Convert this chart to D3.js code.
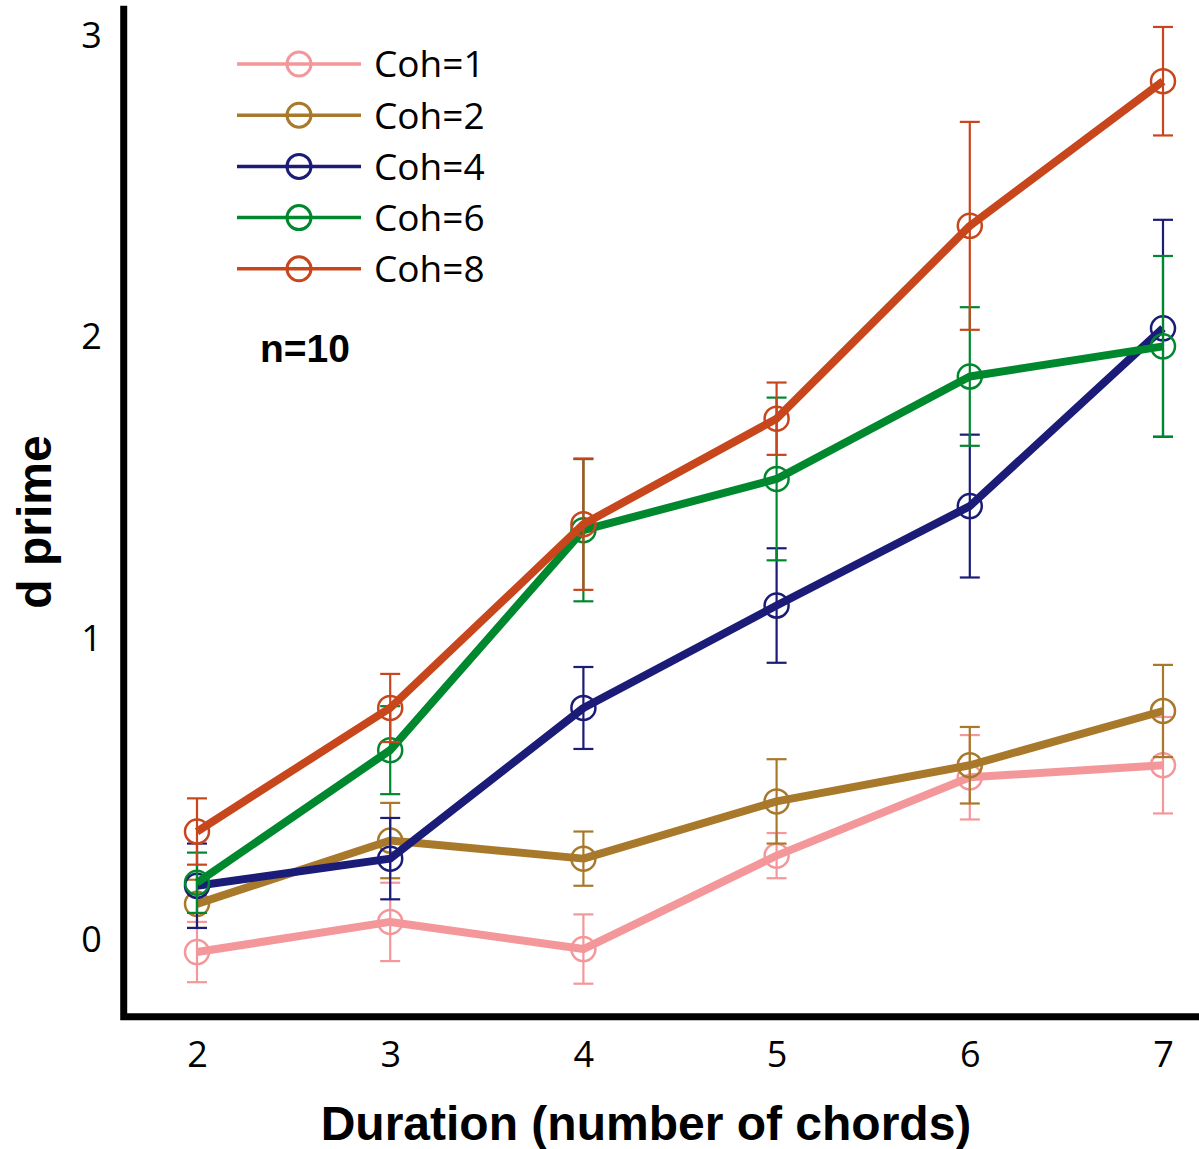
<!DOCTYPE html>
<html>
  <head>
    <meta charset="utf-8">
    <title>d prime by duration</title>
    <script src="https://d3js.org/d3.v7.min.js"></script>
    <style>
      body { margin: 0; background: #fff; }
      .tick text { font-family: "Open Sans", sans-serif; font-size: 36px; fill: #000; }
      .legend-label { font-family: "Open Sans", sans-serif; font-size: 37px; }
      .axis-title { font-family: "Liberation Sans", Arial, sans-serif; font-weight: bold; font-size: 48px; }
    </style>
  </head>
  <body>
    <div id="chart"></div>
    <script>
      // durations on the x axis
      const durations = [2, 3, 4, 5, 6, 7];
      const cohLabels = ['Coh=1', 'Coh=2', 'Coh=4', 'Coh=6', 'Coh=8'];
      const cohColors = ['#f4979a', '#a9792b', '#1b1b78', '#00882f', '#c8461b'];

      // mean d prime per coherence level
      const coh1 = [-0.04, 0.06, -0.03, 0.28, 0.54, 0.58];
      const coh2 = [0.12, 0.33, 0.27, 0.46, 0.58, 0.76];
      const coh4 = [0.18, 0.27, 0.77, 1.11, 1.44, 2.03];
      const coh6 = [0.19, 0.63, 1.36, 1.53, 1.87, 1.97];
      const coh8 = [0.36, 0.77, 1.38, 1.73, 2.37, 2.85];

      // error bar half widths
      const err1 = [0.10, 0.13, 0.115, 0.075, 0.14, 0.16];
      const err2 = [0.08, 0.125, 0.09, 0.14, 0.127, 0.153];
      const err4 = [0.14, 0.135, 0.136, 0.19, 0.237, 0.36];
      const err6 = [0.10, 0.146, 0.236, 0.27, 0.23, 0.30];
      const err8 = [0.11, 0.113, 0.218, 0.12, 0.345, 0.18];

      const yTicks = [0, 1, 2, 3];

      const means = [coh1, coh2, coh4, coh6, coh8];
      const errs = [err1, err2, err4, err6, err8];

      const width = 1199, height = 1149;
      const svg = d3.select('#chart').append('svg')
        .attr('width', width)
        .attr('height', height);

      const xScale = d3.scaleLinear().domain([2, 7]).range([197, 1163]);
      const yScale = d3.scaleLinear().domain([0, 3]).range([940, 36]);

      const axisX = xScale(1.6) + 4;
      const axisY = yScale(-0.255);

      // y axis (labels only, the frame is drawn below)
      const yAxis = d3.axisLeft(yScale)
        .tickValues(yTicks)
        .tickSize(0)
        .tickPadding(22)
        .tickFormat(d3.format('d'));
      const yAxisG = svg.append('g')
        .attr('transform', `translate(${axisX},0)`)
        .call(yAxis);
      yAxisG.select('.domain').remove();

      const xAxis = d3.axisBottom(xScale)
        .tickValues(durations)
        .tickSize(0)
        .tickPadding(25)
        .tickFormat(d3.format('d'));
      const xAxisG = svg.append('g')
        .attr('transform', `translate(0,${axisY})`)
        .call(xAxis);
      xAxisG.select('.domain').remove();

      // L-shaped frame
      svg.append('path')
        .attr('d', `M${axisX},${yScale(3.1)}V${axisY}H${width}`)
        .attr('fill', 'none')
        .attr('stroke', '#000')
        .attr('stroke-width', 7);

      svg.append('text')
        .attr('class', 'axis-title')
        .attr('x', 646)
        .attr('y', 1140)
        .attr('text-anchor', 'middle')
        .text('Duration (number of chords)');

      svg.append('text')
        .attr('class', 'axis-title')
        .attr('font-size', 49)
        .attr('transform', `translate(51,522) rotate(-90)`)
        .attr('text-anchor', 'middle')
        .text('d prime');

      const line = d3.line()
        .x((d, i) => xScale(durations[i]))
        .y(d => yScale(d));

      means.forEach((series, s) => {
        const color = cohColors[s];
        const g = svg.append('g');

        g.append('path')
          .datum(series)
          .attr('d', line)
          .attr('fill', 'none')
          .attr('stroke', color)
          .attr('stroke-width', 8)
          .attr('stroke-linejoin', 'round');

        const bars = g.selectAll('.bar')
          .data(series.map((m, i) => ({ x: durations[i], m: m, e: errs[s][i] })))
          .enter().append('g')
          .attr('stroke', color)
          .attr('stroke-width', 2.2);

        bars.append('line')
          .attr('x1', d => xScale(d.x)).attr('x2', d => xScale(d.x))
          .attr('y1', d => yScale(d.m - d.e)).attr('y2', d => yScale(d.m + d.e));
        bars.append('line')
          .attr('x1', d => xScale(d.x) - 10).attr('x2', d => xScale(d.x) + 10)
          .attr('y1', d => yScale(d.m + d.e)).attr('y2', d => yScale(d.m + d.e));
        bars.append('line')
          .attr('x1', d => xScale(d.x) - 10).attr('x2', d => xScale(d.x) + 10)
          .attr('y1', d => yScale(d.m - d.e)).attr('y2', d => yScale(d.m - d.e));

        g.selectAll('circle')
          .data(series)
          .enter().append('circle')
          .attr('cx', (d, i) => xScale(durations[i]))
          .attr('cy', d => yScale(d))
          .attr('r', 12)
          .attr('fill', 'none')
          .attr('stroke', color)
          .attr('stroke-width', 2.5);
      });

      // legend
      const legend = svg.append('g').attr('transform', 'translate(237,64)');
      const items = legend.selectAll('.item')
        .data(cohLabels)
        .enter().append('g')
        .attr('transform', (d, i) => `translate(0,${i * 51.2})`);
      items.append('line')
        .attr('x1', 0).attr('x2', 124)
        .attr('stroke', (d, i) => cohColors[i])
        .attr('stroke-width', 3.5);
      items.append('circle')
        .attr('cx', 62).attr('r', 12)
        .attr('fill', 'none')
        .attr('stroke', (d, i) => cohColors[i])
        .attr('stroke-width', 3);
      items.append('text')
        .attr('class', 'legend-label')
        .attr('x', 137)
        .attr('dy', '0.36em')
        .text(d => d);

      svg.append('text')
        .attr('x', 260)
        .attr('y', 362)
        .attr('font-family', '"Liberation Sans", Arial, sans-serif')
        .attr('font-weight', 'bold')
        .attr('font-size', 39)
        .text('n=10');
    </script>
  </body>
</html>
